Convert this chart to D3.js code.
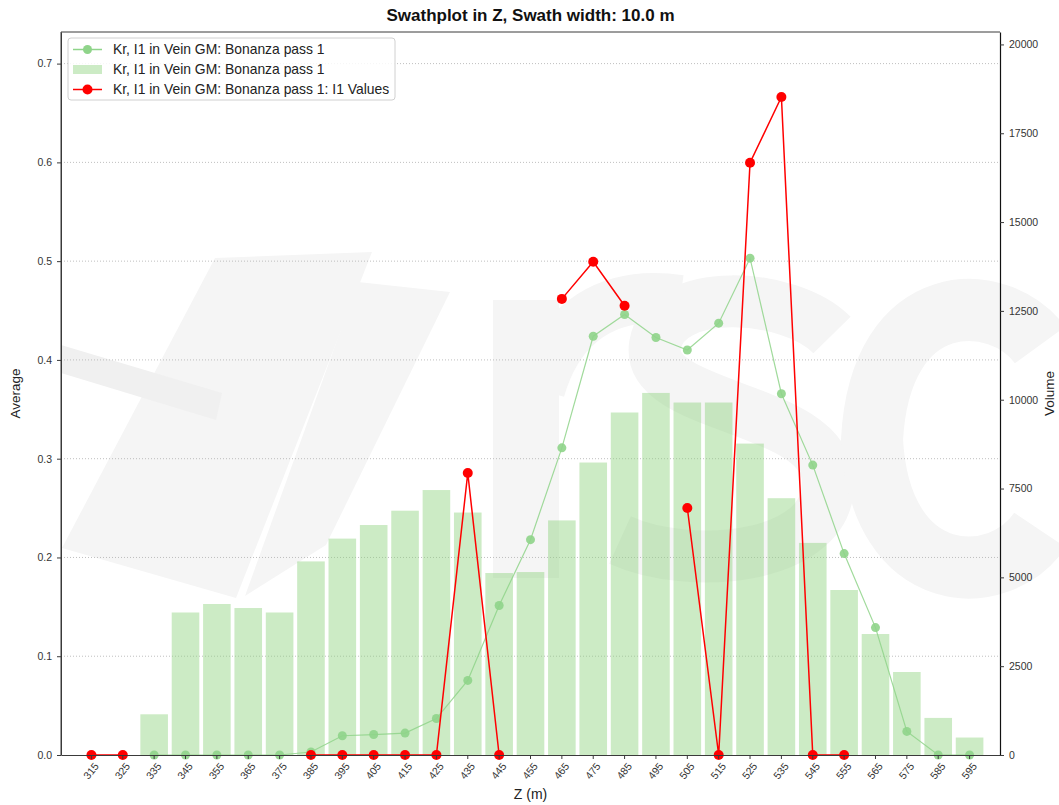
<!DOCTYPE html>
<html>
<head>
<meta charset="utf-8">
<script src="https://cdn.jsdelivr.net/npm/d3@7"></script>
<style>
  html, body { margin: 0; padding: 0; background: #fff; }
  svg { display: block; font-family: "Liberation Sans", Arial, Helvetica, sans-serif; }
</style>
</head>
<body>
<svg id="chart" width="1059" height="805"></svg>
<script>
// Swath centres (m)
const zLabels = ["315","325","335","345","355","365","375","385","395","405","415","425","435","445","455",
                 "465","475","485","495","505","515","525","535","545","555","565","575","585","595"];

// Block volume per swath (right axis)
const volume = [null, null, 1146, 4011, 4250, 4137, 4011, 5449, 6091, 6473, 6876, 7458, 6825, 5122, 5150,
                6603, 8232, 9640, 10191, 9921, 9921, 8765, 7228, 5970, 4644, 3405, 2336, 1044, 492];

// Average Kr grade per swath (left axis)
const average = [null, null, 0, 0, 0, 0, 0, 0.003, 0.0195, 0.0207, 0.0222, 0.0369, 0.0755, 0.1514, 0.218,
                 0.311, 0.424, 0.446, 0.4227, 0.41, 0.4372, 0.503, 0.3658, 0.2935, 0.2039, 0.129, 0.0239, 0, 0];

// I1 sample values per swath (left axis)
const i1Values = [0, 0, null, null, null, null, null, 0, 0, 0, 0, 0, 0.2855, 0, null,
                  0.4618, 0.4993, 0.4548, null, 0.2501, 0, 0.5996, 0.6662, 0, 0, null, null, null, null];

const avgTicks = [0.0, 0.1, 0.2, 0.3, 0.4, 0.5, 0.6, 0.7];
const volTicks = [0, 2500, 5000, 7500, 10000, 12500, 15000, 17500, 20000];

const legendLabels = [
  "Kr, I1 in Vein GM: Bonanza pass 1",
  "Kr, I1 in Vein GM: Bonanza pass 1",
  "Kr, I1 in Vein GM: Bonanza pass 1: I1 Values"
];

const svg = d3.select("#chart");
const W = 1059, H = 805;
const m = { left: 61, right: 1000, top: 32, bottom: 755 };

const GREEN_BAR = "#8fd27f";
const GREEN_LINE = "#8fd48a";
const RED = "#ff0000";
const AXIS = "#3a3a3a";

svg.append("rect").attr("width", W).attr("height", H).attr("fill", "#fff");

// Faint background logo
const wm = svg.append("g").attr("fill", "#f5f5f5").attr("stroke", "none");
wm.append("path").attr("d", "M215,258 L372,252 L236,598 L62,548 Z");
wm.append("path").attr("d", "M61,345 L222,393 L216,420 L61,373 Z").attr("fill", "#f0f0f0");
wm.append("path").attr("d", "M358,282 L450,292 L326,545 L245,596 Z");
const wmStroke = svg.append("g").attr("fill", "none").attr("stroke", "#f5f5f5");
wmStroke.append("path").attr("d", "M526,578 L526,300").attr("stroke-width", 66);
wmStroke.append("path").attr("d", "M540,390 C560,320 610,290 680,300").attr("stroke-width", 50);
wmStroke.append("path")
  .attr("d", "M832,335 C790,292 665,285 655,345 C645,410 825,405 828,480 C832,560 690,572 620,540")
  .attr("stroke-width", 52);
wmStroke.append("path")
  .attr("d", "M1040,345 C1000,290 880,285 872,440 C880,590 1000,590 1040,530")
  .attr("stroke-width", 62);

// Scales
const x = d3.scaleBand()
  .domain(zLabels)
  .range([m.left, m.right])
  .paddingInner(0.12)
  .paddingOuter(0.53);
const cx = d => x(d) + x.bandwidth() / 2;

const yAvg = d3.scaleLinear().domain([0, 0.732]).range([m.bottom, m.top]);
const yVol = d3.scaleLinear().domain([0, 20350]).range([m.bottom, m.top]);

// Horizontal dotted grid on the average axis
svg.append("g")
  .selectAll("line")
  .data(avgTicks.filter(t => t > 0))
  .join("line")
  .attr("x1", m.left).attr("x2", m.right)
  .attr("y1", d => yAvg(d)).attr("y2", d => yAvg(d))
  .attr("stroke", "#b8b8b8")
  .attr("stroke-width", 0.9)
  .attr("stroke-dasharray", "1,2");

// Volume bars
const barData = zLabels.map((z, i) => ({ z, v: volume[i] })).filter(d => d.v != null);
svg.append("g")
  .selectAll("rect")
  .data(barData)
  .join("rect")
  .attr("x", d => x(d.z))
  .attr("width", x.bandwidth())
  .attr("y", d => yVol(d.v))
  .attr("height", d => yVol(0) - yVol(d.v))
  .attr("fill", GREEN_BAR)
  .attr("fill-opacity", 0.45);

// Average line with markers
const avgData = zLabels.map((z, i) => ({ z, v: average[i] }));
const avgLine = d3.line().defined(d => d.v != null).x(d => cx(d.z)).y(d => yAvg(d.v));
svg.append("path")
  .datum(avgData)
  .attr("d", avgLine)
  .attr("fill", "none")
  .attr("stroke", GREEN_LINE)
  .attr("stroke-opacity", 0.85)
  .attr("stroke-width", 1.2);
svg.append("g")
  .selectAll("circle")
  .data(avgData.filter(d => d.v != null))
  .join("circle")
  .attr("cx", d => cx(d.z))
  .attr("cy", d => yAvg(d.v))
  .attr("r", 4.5)
  .attr("fill", GREEN_LINE)
  .attr("fill-opacity", 0.9);

// I1 values line with markers
const i1Data = zLabels.map((z, i) => ({ z, v: i1Values[i] }));
const i1Line = d3.line().defined(d => d.v != null).x(d => cx(d.z)).y(d => yAvg(d.v));
svg.append("path")
  .datum(i1Data)
  .attr("d", i1Line)
  .attr("fill", "none")
  .attr("stroke", RED)
  .attr("stroke-width", 1.5);
svg.append("g")
  .selectAll("circle")
  .data(i1Data.filter(d => d.v != null))
  .join("circle")
  .attr("cx", d => cx(d.z))
  .attr("cy", d => yAvg(d.v))
  .attr("r", 5)
  .attr("fill", RED);

// Frame
svg.append("line").attr("x1", m.left).attr("x2", m.right).attr("y1", m.top).attr("y2", m.top)
  .attr("stroke", AXIS).attr("stroke-width", 1);
svg.append("line").attr("x1", m.left).attr("x2", m.left).attr("y1", m.top).attr("y2", m.bottom)
  .attr("stroke", AXIS).attr("stroke-width", 1);

// Bottom axis
const gx = svg.append("g")
  .attr("transform", `translate(0,${m.bottom})`)
  .call(d3.axisBottom(x).tickSize(4).tickPadding(3).tickSizeOuter(0));
gx.select(".domain").attr("stroke", AXIS).attr("stroke-width", 1.2);
gx.selectAll(".tick line").attr("stroke", AXIS);
gx.selectAll(".tick text")
  .attr("font-size", 10.5)
  .attr("fill", "#333")
  .attr("text-anchor", "end")
  .attr("dy", "0.35em")
  .attr("transform", "translate(5,9) rotate(-52)")
  .attr("y", 0).attr("x", 0);

// Left axis
const gl = svg.append("g")
  .attr("transform", `translate(${m.left},0)`)
  .call(d3.axisLeft(yAvg).tickValues(avgTicks).tickFormat(d3.format(".1f")).tickSize(4).tickPadding(5).tickSizeOuter(0));
gl.select(".domain").attr("stroke", AXIS);
gl.selectAll(".tick line").attr("stroke", AXIS);
gl.selectAll(".tick text").attr("font-size", 10.5).attr("fill", "#333");

// Right axis
const gr = svg.append("g")
  .attr("transform", `translate(${m.right},0)`)
  .call(d3.axisRight(yVol).tickValues(volTicks).tickFormat(d3.format("d")).tickSize(4).tickPadding(5).tickSizeOuter(0));
gr.select(".domain").attr("stroke", "#111").attr("stroke-width", 1.2);
gr.selectAll(".tick line").attr("stroke", AXIS);
gr.selectAll(".tick text").attr("font-size", 10.5).attr("fill", "#333");

// Titles and axis labels
svg.append("text")
  .attr("x", (m.left + m.right) / 2).attr("y", 21)
  .attr("text-anchor", "middle")
  .attr("font-size", 17).attr("font-weight", "bold").attr("fill", "#111")
  .text("Swathplot in Z, Swath width: 10.0 m");
svg.append("text")
  .attr("x", (m.left + m.right) / 2).attr("y", 799)
  .attr("text-anchor", "middle")
  .attr("font-size", 14).attr("fill", "#222")
  .text("Z (m)");
svg.append("text")
  .attr("transform", `translate(20,${(m.top + m.bottom) / 2}) rotate(-90)`)
  .attr("text-anchor", "middle")
  .attr("font-size", 13.5).attr("fill", "#222")
  .text("Average");
svg.append("text")
  .attr("transform", `translate(1054,${(m.top + m.bottom) / 2}) rotate(-90)`)
  .attr("text-anchor", "middle")
  .attr("font-size", 13.5).attr("fill", "#222")
  .text("Volume");

// Legend
const lg = svg.append("g").attr("transform", "translate(68,38)");
lg.append("rect")
  .attr("width", 327).attr("height", 62).attr("rx", 3)
  .attr("fill", "#fff").attr("fill-opacity", 0.85)
  .attr("stroke", "#d0d0d0");
const rowY = [11.5, 31.5, 51.5];
// row 1: average line
lg.append("line").attr("x1", 5).attr("x2", 34).attr("y1", rowY[0]).attr("y2", rowY[0])
  .attr("stroke", GREEN_LINE).attr("stroke-width", 1.5);
lg.append("circle").attr("cx", 19.5).attr("cy", rowY[0]).attr("r", 4.5).attr("fill", GREEN_LINE);
// row 2: volume bars
lg.append("rect").attr("x", 5).attr("y", rowY[1] - 4.5).attr("width", 29).attr("height", 9)
  .attr("fill", GREEN_BAR).attr("fill-opacity", 0.45);
// row 3: I1 values
lg.append("line").attr("x1", 5).attr("x2", 34).attr("y1", rowY[2]).attr("y2", rowY[2])
  .attr("stroke", RED).attr("stroke-width", 1.5);
lg.append("circle").attr("cx", 19.5).attr("cy", rowY[2]).attr("r", 5).attr("fill", RED);
lg.selectAll("text.lbl")
  .data(legendLabels)
  .join("text")
  .attr("class", "lbl")
  .attr("x", 45)
  .attr("y", (d, i) => rowY[i])
  .attr("dy", "0.35em")
  .attr("font-size", 13.9)
  .attr("fill", "#222")
  .text(d => d);
</script>
</body>
</html>
